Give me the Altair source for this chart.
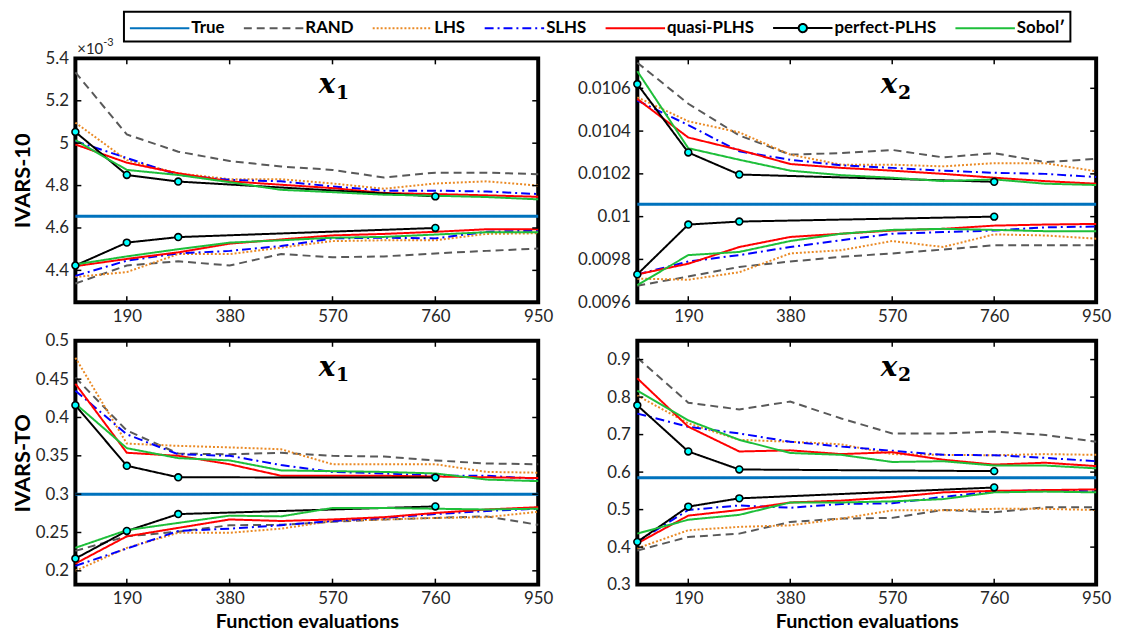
import math
import altair as alt
import pandas as pd

# ---------------- data ----------------
X = [95, 190, 285, 380, 475, 570, 665, 760, 855, 950]
X_PERFECT = [95, 190, 285, 760]
X_TICKS = [190, 380, 570, 760, 950]

METHODS = ["True", "RAND", "LHS", "SLHS", "quasi-PLHS", "perfect-PLHS", "Sobol′"]
COLORS = ["#0072BD", "#595959", "#EA8A25", "#0000FF", "#FF0000", "#000000", "#1EBF3A"]
DASHES = [[1, 0], [8, 5], [2, 2], [9, 4, 2, 4], [1, 0], [1, 0], [1, 0]]

# IVARS-10, x1  (values in units of 1e-3)
TL_TRUE = 4.655
TL = {
    "RAND": ([5.334, 5.041, 4.96, 4.916, 4.89, 4.874, 4.838, 4.861, 4.861, 4.854],
             [4.338, 4.423, 4.443, 4.423, 4.477, 4.462, 4.466, 4.48, 4.492, 4.503]),
    "LHS": ([5.097, 4.92, 4.858, 4.83, 4.83, 4.81, 4.785, 4.81, 4.82, 4.80],
            [4.369, 4.392, 4.477, 4.477, 4.508, 4.538, 4.542, 4.542, 4.572, 4.575]),
    "SLHS": ([5.01, 4.93, 4.85, 4.827, 4.82, 4.796, 4.776, 4.776, 4.772, 4.76],
             [4.374, 4.446, 4.48, 4.492, 4.515, 4.551, 4.554, 4.551, 4.582, 4.588]),
    "quasi-PLHS": ([4.994, 4.908, 4.858, 4.82, 4.804, 4.788, 4.765, 4.76, 4.754, 4.747],
                   [4.42, 4.454, 4.485, 4.526, 4.546, 4.565, 4.572, 4.582, 4.594, 4.594]),
    "perfect-PLHS": ([5.053, 4.85, 4.819, 4.749],
                     [4.423, 4.531, 4.557, 4.6]),
    "Sobol′": ([5.014, 4.874, 4.85, 4.816, 4.78, 4.769, 4.757, 4.752, 4.746, 4.735],
               [4.428, 4.466, 4.50, 4.531, 4.542, 4.554, 4.558, 4.569, 4.58, 4.58]),
}

# IVARS-10, x2
TR_TRUE = 0.010058
TR = {
    "RAND": ([0.01072, 0.010528, 0.01038, 0.01029, 0.010297, 0.010312, 0.010277, 0.010297, 0.010255, 0.01027],
             [0.009677, 0.00972, 0.009765, 0.00979, 0.009812, 0.009828, 0.009846, 0.009866, 0.009866, 0.009866]),
    "LHS": ([0.010558, 0.010446, 0.010394, 0.01029, 0.010243, 0.010243, 0.010235, 0.01025, 0.01025, 0.010212],
            [0.00971, 0.009705, 0.00974, 0.009828, 0.009843, 0.009886, 0.009858, 0.009917, 0.009912, 0.009897]),
    "SLHS": ([0.010543, 0.010428, 0.010305, 0.010266, 0.01024, 0.010228, 0.010215, 0.010205, 0.0102, 0.010185],
             [0.00973, 0.00979, 0.00982, 0.009858, 0.00989, 0.00992, 0.009928, 0.009935, 0.00995, 0.009954]),
    "quasi-PLHS": ([0.01055, 0.01037, 0.010312, 0.010246, 0.010228, 0.010215, 0.0102, 0.010182, 0.010166, 0.010154],
                   [0.00973, 0.00978, 0.009858, 0.009905, 0.00992, 0.009935, 0.009943, 0.009958, 0.009963, 0.009966]),
    "perfect-PLHS": ([0.01062, 0.0103, 0.010197, 0.010163],
                     [0.00973, 0.009963, 0.009977, 0.01]),
    "Sobol′": ([0.01068, 0.01032, 0.010266, 0.010215, 0.010194, 0.010182, 0.010166, 0.010174, 0.010154, 0.010148],
               [0.00968, 0.00982, 0.009835, 0.009886, 0.00992, 0.009938, 0.009943, 0.009938, 0.009932, 0.009932]),
}

# IVARS-TO, x1
BL_TRUE = 0.3
BL = {
    "RAND": ([0.452, 0.383, 0.353, 0.352, 0.354, 0.35, 0.349, 0.344, 0.34, 0.339],
             [0.226, 0.245, 0.251, 0.2595, 0.26, 0.264, 0.267, 0.269, 0.271, 0.26]),
    "LHS": ([0.478, 0.366, 0.363, 0.361, 0.3586, 0.339, 0.339, 0.339, 0.329, 0.328],
            [0.2, 0.23, 0.2496, 0.2496, 0.255, 0.265, 0.267, 0.269, 0.27, 0.277]),
    "SLHS": ([0.435, 0.378, 0.352, 0.35, 0.338, 0.329, 0.327, 0.324, 0.324, 0.32],
             [0.2065, 0.229, 0.252, 0.255, 0.2595, 0.265, 0.269, 0.274, 0.278, 0.281]),
    "quasi-PLHS": ([0.444, 0.354, 0.35, 0.339, 0.324, 0.324, 0.324, 0.323, 0.322, 0.321],
                   [0.2095, 0.245, 0.256, 0.267, 0.265, 0.267, 0.27, 0.2755, 0.28, 0.283]),
    "perfect-PLHS": ([0.416, 0.337, 0.322, 0.3216],
                     [0.216, 0.252, 0.274, 0.284]),
    "Sobol′": ([0.418, 0.36, 0.347, 0.344, 0.331, 0.33, 0.329, 0.327, 0.319, 0.317],
               [0.23, 0.253, 0.2625, 0.272, 0.271, 0.282, 0.282, 0.281, 0.28, 0.281]),
}

# IVARS-TO, x2
BR_TRUE = 0.585
BR = {
    "RAND": ([0.905, 0.785, 0.767, 0.788, 0.743, 0.703, 0.703, 0.708, 0.699, 0.681],
             [0.391, 0.427, 0.436, 0.467, 0.476, 0.478, 0.499, 0.493, 0.506, 0.506]),
    "LHS": ([0.804, 0.73, 0.686, 0.681, 0.674, 0.648, 0.646, 0.645, 0.648, 0.646],
            [0.397, 0.445, 0.454, 0.458, 0.476, 0.498, 0.498, 0.502, 0.502, 0.499]),
    "SLHS": ([0.756, 0.721, 0.703, 0.681, 0.668, 0.657, 0.646, 0.645, 0.638, 0.629],
             [0.414, 0.499, 0.511, 0.505, 0.515, 0.517, 0.534, 0.548, 0.552, 0.548]),
    "quasi-PLHS": ([0.85, 0.721, 0.655, 0.658, 0.648, 0.653, 0.633, 0.62, 0.625, 0.616],
                   [0.41, 0.484, 0.499, 0.519, 0.524, 0.533, 0.546, 0.55, 0.552, 0.554]),
    "perfect-PLHS": ([0.778, 0.655, 0.607, 0.6026],
                     [0.414, 0.508, 0.53, 0.559]),
    "Sobol′": ([0.817, 0.738, 0.686, 0.651, 0.646, 0.627, 0.629, 0.6175, 0.6175, 0.61],
               [0.436, 0.473, 0.486, 0.519, 0.519, 0.522, 0.528, 0.546, 0.548, 0.546]),
}

TL_YTICKS = [4.4, 4.6, 4.8, 5.0, 5.2, 5.4]
TR_YTICKS = [0.0096, 0.0098, 0.01, 0.0102, 0.0104, 0.0106]
BL_YTICKS = [0.2, 0.25, 0.3, 0.35, 0.4, 0.45, 0.5]
BR_YTICKS = [0.3, 0.4, 0.5, 0.6, 0.7, 0.8, 0.9]

ROW_TITLES = ["IVARS-10", "IVARS-TO"]
X_TITLE = "Function evaluations"
SUBS = ["1", "2"]

# ---------------- styling ----------------
FONT = "Lato"
W_L, W_R, H = 467, 463, 246

# legend symbols (small layout size, drawn long to the right)
SYM = 400            # layout box = sqrt(400) = 20 px, path unit = 10 px
r = 0.42
cx = 2.0
poly = "".join(
    f"{'M' if i == 0 else 'L'}{cx + r*math.cos(2*math.pi*i/20):.3f},{r*math.sin(2*math.pi*i/20):.3f}"
    for i in range(20)
)
LINE_PATH = "M-1,0L5,0"
PERFECT_PATH = f"M-1,0L{cx - r:.2f},0M{cx + r:.2f},0L5,0{poly}Z"
SHAPES = [PERFECT_PATH if m == "perfect-PLHS" else LINE_PATH for m in METHODS]
FILLS = ["#00FFFF" if m == "perfect-PLHS" else "transparent" for m in METHODS]

legend = alt.Legend(
    title=None, orient="none", legendX=49, legendY=-47, direction="horizontal", columns=7,
    symbolSize=SYM, symbolStrokeWidth=2,
    labelFont=FONT, labelFontSize=17, labelFontWeight="bold", labelColor="black",
    labelOffset=41, columnPadding=15, padding=5, strokeColor="black", labelLimit=300,
)

color_enc = alt.Color("method:N", scale=alt.Scale(domain=METHODS, range=COLORS), legend=legend)
dash_enc = alt.StrokeDash("method:N", scale=alt.Scale(domain=METHODS, range=DASHES), legend=legend)
shape_enc = alt.Shape("method:N", scale=alt.Scale(domain=METHODS, range=SHAPES), legend=legend)
fill_enc = alt.Fill("method:N", scale=alt.Scale(domain=METHODS, range=FILLS), legend=legend)


def panel(data, true_val, ydomain, yticks, fmt, width, ytitle, xtitle, sub, exponent=False):
    rows = []
    for m, (up, lo) in data.items():
        xs = X_PERFECT if m == "perfect-PLHS" else X
        for b, vals in (("upper", up), ("lower", lo)):
            for xv, yv in zip(xs, vals):
                rows.append({"method": m, "bound": b, "x": xv, "y": yv})
    df = pd.DataFrame(rows)
    df_true = pd.DataFrame({"method": ["True", "True"], "x": [X[0], X[-1]], "y": [true_val, true_val]})
    df_pts = df[df["method"] == "perfect-PLHS"]
    df_empty = df.iloc[0:0]

    xaxis_kw = dict(values=X_TICKS, ticks=False, domain=False, grid=False, labelFont=FONT,
                    labelFontSize=17, labelColor="#262626", labelPadding=6, labelFlush=False)
    if xtitle:
        xaxis = alt.Axis(title=xtitle, titleFont=FONT, titleFontSize=20, titleFontWeight="bold",
                         titleColor="black", titlePadding=5, **xaxis_kw)
    else:
        xaxis = alt.Axis(title=None, **xaxis_kw)
    yaxis_kw = dict(values=yticks, ticks=False, domain=False, grid=False, labelFont=FONT,
                    labelFontSize=17, labelColor="#262626", labelPadding=7, labelFlush=False,
                    labelExpr=f"format(datum.value, '{fmt}')")
    if ytitle:
        yaxis = alt.Axis(title=ytitle, titleFont=FONT, titleFontSize=22, titleFontWeight="bold",
                         titleColor="black", titleX=-53, titleY=H / 2, titleBaseline="middle",
                         titleAngle=270, **yaxis_kw)
    else:
        yaxis = alt.Axis(title=None, **yaxis_kw)

    xs = alt.Scale(domain=[95, 950], nice=False, zero=False)
    ys = alt.Scale(domain=ydomain, nice=False, zero=False)

    def xe():
        return alt.X("x:Q", scale=xs, axis=xaxis)

    def ye():
        return alt.Y("y:Q", scale=ys, axis=yaxis)

    true_line = alt.Chart(df_true).mark_line(strokeWidth=3).encode(
        x=xe(), y=ye(), color=color_enc, strokeDash=dash_enc)
    lines = alt.Chart(df).mark_line(strokeWidth=2).encode(
        x=xe(), y=ye(), color=color_enc, strokeDash=dash_enc, detail="bound:N")
    # empty layer that only feeds the legend with per-entry symbols
    leg = alt.Chart(df_empty).mark_point(filled=False, strokeWidth=2, opacity=1).encode(
        x=xe(), y=ye(), color=color_enc, strokeDash=dash_enc, shape=shape_enc, fill=fill_enc)
    pts = alt.Chart(df_pts).mark_point(filled=True, fill="#00FFFF", stroke="black",
                                       strokeWidth=1.6, size=48, opacity=1).encode(x=xe(), y=ye())

    dx = pd.DataFrame({"x": X_TICKS})
    dy = pd.DataFrame({"y": yticks})
    tick_b = alt.Chart(dx).mark_rule(color="black", strokeWidth=1.5).encode(
        x=xe(), y=alt.value(H), y2=alt.value(H - 6))
    tick_t = alt.Chart(dx).mark_rule(color="black", strokeWidth=1.5).encode(
        x=xe(), y=alt.value(0), y2=alt.value(6))
    tick_l = alt.Chart(dy).mark_rule(color="black", strokeWidth=1.5).encode(
        y=ye(), x=alt.value(0), x2=alt.value(6))
    tick_r = alt.Chart(dy).mark_rule(color="black", strokeWidth=1.5).encode(
        y=ye(), x=alt.value(width), x2=alt.value(width - 6))

    t_main = alt.Chart(pd.DataFrame({"t": ["x"]})).mark_text(
        font="DejaVu Serif", fontStyle="italic", fontWeight="bold", fontSize=28,
        align="center", baseline="alphabetic", color="black"
    ).encode(text="t:N", x=alt.value(254), y=alt.value(35))
    t_sub = alt.Chart(pd.DataFrame({"t": [sub]})).mark_text(
        font="DejaVu Serif", fontWeight="bold", fontSize=19,
        align="left", baseline="alphabetic", color="black"
    ).encode(text="t:N", x=alt.value(263), y=alt.value(41))

    layers = [true_line, lines, leg, pts, tick_b, tick_t, tick_l, tick_r, t_main, t_sub]
    if exponent:
        e1 = alt.Chart(pd.DataFrame({"t": ["×10"]})).mark_text(
            font=FONT, fontSize=15, align="left", baseline="alphabetic", color="#262626"
        ).encode(text="t:N", x=alt.value(2), y=alt.value(-4))
        e2 = alt.Chart(pd.DataFrame({"t": ["-3"]})).mark_text(
            font=FONT, fontSize=11, align="left", baseline="alphabetic", color="#262626"
        ).encode(text="t:N", x=alt.value(28), y=alt.value(-12))
        layers += [e1, e2]
    return alt.layer(*layers).properties(width=width, height=H)


tl = panel(TL, TL_TRUE, [4.25, 5.4], TL_YTICKS, ".2~g", W_L, ROW_TITLES[0], None, SUBS[0], exponent=True)
tr = panel(TR, TR_TRUE, [0.0096, 0.01074], TR_YTICKS, ".3~g", W_R, None, None, SUBS[1])
bl = panel(BL, BL_TRUE, [0.182, 0.5], BL_YTICKS, ".2~g", W_L, ROW_TITLES[1], X_TITLE, SUBS[0])
br = panel(BR, BR_TRUE, [0.3, 0.95], BR_YTICKS, ".2~g", W_R, None, X_TITLE, SUBS[1])

chart = alt.concat(
    tl, tr, bl, br, columns=2, spacing={"row": 39, "column": 100}, bounds="flush",
).properties(padding={"left": 2, "top": 0, "right": 0, "bottom": 0}).configure_view(
    stroke="black", strokeWidth=4
).configure_legend(strokeWidth=2)

chart.save("out.html", embed_options={"renderer": "svg", "actions": False})
